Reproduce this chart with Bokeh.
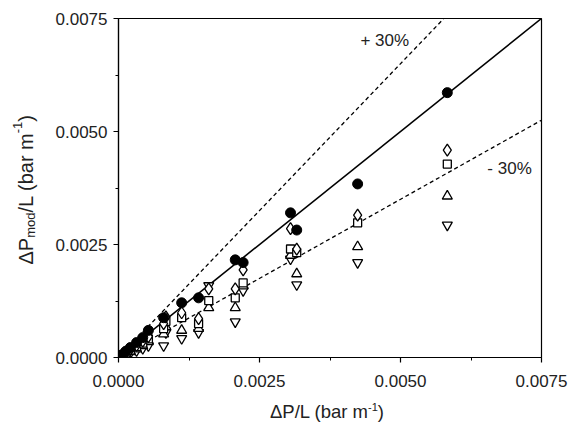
from bokeh.plotting import figure
from bokeh.models import Range1d, LinearAxis, FixedTicker, NumeralTickFormatter, Label, Div
from bokeh.layouts import row, column
from bokeh.embed import file_html
from bokeh.resources import INLINE

# ---------------- data ----------------
x_circle = [0.00006, 0.00013, 0.00021, 0.00032, 0.00043, 0.00053, 0.00080, 0.00112,
            0.00142, 0.00207, 0.00221, 0.00305, 0.00316, 0.00424, 0.00583]
y_circle = [0.00006, 0.00014, 0.00022, 0.00033, 0.00044, 0.00060, 0.00088, 0.00121,
            0.00132, 0.00216, 0.00210, 0.00320, 0.00282, 0.00384, 0.00586]

x_open = [0.00006, 0.00013, 0.00021, 0.00032, 0.00043, 0.00053, 0.00080, 0.00084, 0.00112,
          0.00142, 0.00160, 0.00207, 0.00221, 0.00305, 0.00316, 0.00424, 0.00583]
y_diamond = [0.00005, 0.00011, 0.00018, 0.00027, 0.00036, 0.00046, 0.00075, 0.00090, 0.00099,
             0.00086, 0.00152, 0.00152, 0.00194, 0.00285, 0.00240, 0.00315, 0.00459]
y_square = [0.00004, 0.00010, 0.00016, 0.00024, 0.00032, 0.00041, 0.00064, 0.00080, 0.00088,
            0.00075, 0.00126, 0.00132, 0.00165, 0.00240, 0.00232, 0.00298, 0.00428]
y_triup = [0.00003, 0.00008, 0.00013, 0.00019, 0.00026, 0.00035, 0.00052, 0.00068, 0.00060,
           0.00064, 0.00110, 0.00110, 0.00158, 0.00226, 0.00185, 0.00245, 0.00357]
y_tridown = [0.00002, 0.00006, 0.00010, 0.00015, 0.00020, 0.00026, 0.00026, 0.00055, 0.00042,
             0.00055, 0.00159, 0.00079, 0.00148, 0.00218, 0.00161, 0.00210, 0.00293]

ref_x = [0.0, 0.0075]
ref_slopes = [1.0, 1.3, 0.7]
ref_dash = ["solid", "4 3", "4 3"]

ticks = [0.0, 0.0025, 0.0050, 0.0075]
minor = [0.00125, 0.00375, 0.00625]
band_labels = ["+ 30%", "- 30%"]
band_label_x = [0.00429, 0.00654]
band_label_y = [0.00702, 0.00418]

FONT = "Liberation Sans"
x_title_html = "\u0394P/L (bar m<sup style='font-size:11px;line-height:0;'>-1</sup>)"
y_title_html = ("\u0394P<sub style='font-size:13px;line-height:0;'>mod</sub>/L (bar m"
                "<sup style='font-size:13px;line-height:0;'>-1</sup>)")

# ---------------- figure ----------------
FW, FH = 423, 339
LEFT, TOP, RIGHT, BOTTOM = 66, 18, 29, 36
XMAX = YMAX = 0.0075
YDIV_W = 52

p = figure(width=LEFT + FW + RIGHT, height=TOP + FH + BOTTOM,
           frame_width=FW, frame_height=FH,
           min_border_left=LEFT, min_border_top=TOP, min_border_right=RIGHT, min_border_bottom=BOTTOM,
           x_range=Range1d(0, XMAX), y_range=Range1d(0, YMAX),
           output_backend="svg", toolbar_location=None,
           x_axis_type=None, y_axis_type=None)
p.xgrid.visible = False
p.ygrid.visible = False
p.outline_line_color = "black"
p.outline_line_width = 1.2
p.background_fill_color = "white"
p.border_fill_color = "white"


def style_axis(ax):
    ax.ticker = FixedTicker(ticks=ticks, minor_ticks=minor)
    ax.axis_line_color = "black"
    ax.axis_line_width = 1.2
    ax.major_tick_line_color = "black"
    ax.minor_tick_line_color = "black"
    ax.major_tick_line_width = 1.2
    ax.minor_tick_line_width = 1.0
    ax.major_tick_in, ax.major_tick_out = 0, 5
    ax.minor_tick_in, ax.minor_tick_out = 0, 3
    ax.formatter = NumeralTickFormatter(format="0.0000")
    ax.major_label_text_font = FONT
    ax.major_label_text_color = "#222222"
    ax.major_label_text_font_size = "17px"


xb = LinearAxis()
style_axis(xb)
xb.major_label_standoff = 12
p.add_layout(xb, "below")
yl = LinearAxis()
style_axis(yl)
yl.major_label_standoff = 6
p.add_layout(yl, "left")

# reference lines: y = x and +/-30 %
for s, d in zip(ref_slopes, ref_dash):
    p.line(ref_x, [s * v for v in ref_x], line_color="black",
           line_width=1.6 if d == "solid" else 1.3, line_dash=d)

# markers
p.scatter(x_open, y_tridown, marker="inverted_triangle", size=10, fill_color="white",
          line_color="black", line_width=1.3)
p.scatter(x_open, y_triup, marker="triangle", size=10, fill_color="white",
          line_color="black", line_width=1.3)
p.scatter(x_open, y_square, marker="square", size=8, fill_color="white",
          line_color="black", line_width=1.3)
p.scatter(x_open, y_diamond, marker="diamond", size=12, fill_color="white",
          line_color="black", line_width=1.3)
p.scatter(x_circle, y_circle, marker="circle", size=10, fill_color="black",
          line_color="black")

# band labels
for t, bx, by in zip(band_labels, band_label_x, band_label_y):
    p.add_layout(Label(x=bx, y=by, text=t, text_font=FONT, text_font_size="17px",
                       text_color="#222222", text_baseline="middle", text_align="left"))

# axis titles as HTML (real text with sub/superscripts)
ph = TOP + FH + BOTTOM
ydiv = Div(width=YDIV_W, height=ph, margin=0, text=(
    f"<div style=\"box-sizing:border-box;width:{YDIV_W}px;height:{ph}px;padding-bottom:14px;"
    "display:flex;align-items:center;justify-content:center;\">"
    f"<span style=\"writing-mode:vertical-rl;transform:rotate(180deg);white-space:nowrap;"
    f"font-family:'{FONT}';font-size:20px;line-height:22px;color:#222222;\">"
    f"{y_title_html}</span></div>"))

xdiv = Div(width=LEFT + FW + RIGHT, height=28, margin=0, text=(
    f"<div style=\"padding-top:9px;padding-left:218px;white-space:nowrap;"
    f"font-family:'{FONT}';font-size:18.5px;line-height:20px;color:#222222;\">"
    f"{x_title_html}</div>"))

layout = row(ydiv, column(p, xdiv, spacing=0), spacing=0)

open("out.html", "w").write(file_html(layout, INLINE))
